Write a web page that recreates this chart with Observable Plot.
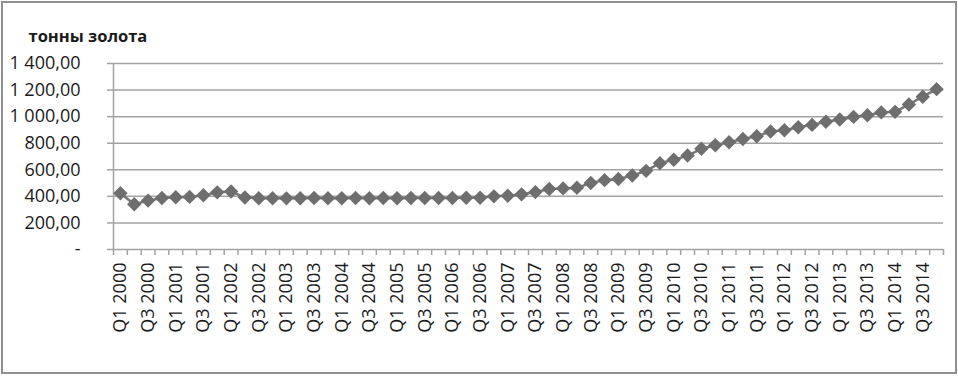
<!DOCTYPE html>
<html><head><meta charset="utf-8">
<script src="https://cdn.jsdelivr.net/npm/d3@7"></script>
<script src="https://cdn.jsdelivr.net/npm/@observablehq/plot@0.6"></script>
<style>
body{margin:0;background:#fff}
#wrap{position:relative;width:958px;height:376px;overflow:hidden}
#border{position:absolute;left:1px;top:1px;width:952px;height:369px;border:2px solid #909090;pointer-events:none}
</style></head><body><div id="wrap"><div id="border"></div></div>
<script>
const title = "тонны золота";
const quarters = [
  "Q1 2000","Q2 2000","Q3 2000","Q4 2000",
  "Q1 2001","Q2 2001","Q3 2001","Q4 2001",
  "Q1 2002","Q2 2002","Q3 2002","Q4 2002",
  "Q1 2003","Q2 2003","Q3 2003","Q4 2003",
  "Q1 2004","Q2 2004","Q3 2004","Q4 2004",
  "Q1 2005","Q2 2005","Q3 2005","Q4 2005",
  "Q1 2006","Q2 2006","Q3 2006","Q4 2006",
  "Q1 2007","Q2 2007","Q3 2007","Q4 2007",
  "Q1 2008","Q2 2008","Q3 2008","Q4 2008",
  "Q1 2009","Q2 2009","Q3 2009","Q4 2009",
  "Q1 2010","Q2 2010","Q3 2010","Q4 2010",
  "Q1 2011","Q2 2011","Q3 2011","Q4 2011",
  "Q1 2012","Q2 2012","Q3 2012","Q4 2012",
  "Q1 2013","Q2 2013","Q3 2013","Q4 2013",
  "Q1 2014","Q2 2014","Q3 2014","Q4 2014"
];
const gold = [
  423, 341, 368, 388,
  393, 396, 408, 430,
  437, 391, 386, 386,
  385, 386, 387, 386,
  386, 387, 386, 387,
  386, 388, 387, 388,
  387, 389, 390, 400,
  405, 415, 432, 455,
  460, 465, 500, 522,
  530, 557, 592, 650,
  675, 707, 758, 785,
  807, 832, 853, 888,
  897, 920, 938, 961,
  978, 998, 1011, 1032,
  1036, 1092, 1150, 1207
];
const yTicks = [0, 200, 400, 600, 800, 1000, 1200, 1400];

const data = quarters.map((q, i) => ({q, i, v: gold[i]}));
const bounds = d3.range(quarters.length + 1);
const labelPos = data.filter(d => d.i % 2 === 0).map(d => d.i + 0.5);
const ru = d3.formatLocale({decimal: ",", thousands: "\u00a0", grouping: [3], currency: ["", ""]});
const f2 = ru.format(",.2f");
const fmtY = d => d === 0 ? "-" : f2(d);
const font = "'Open Sans', 'DejaVu Sans', sans-serif";
const grid = "#a3a3a3";
const ink = "#1a1a1a";

const plot = Plot.plot({
  width: 958, height: 376,
  marginLeft: 113, marginRight: 15, marginTop: 63, marginBottom: 127,
  style: {fontFamily: font, fontSize: "17px", background: "#fff", overflow: "visible"},
  x: {type: "linear", domain: [0, quarters.length], axis: null},
  y: {domain: [0, 1400], axis: null},
  marks: [
    Plot.ruleY(yTicks, {stroke: grid, strokeWidth: 1.5}),
    Plot.ruleX([0], {stroke: grid, strokeWidth: 1.5}),
    Plot.axisY(yTicks, {label: null, tickSize: 6, tickPadding: 27, tickFormat: fmtY, stroke: grid, strokeWidth: 1.5, fill: ink, fontSize: 18}),
    Plot.axisX(bounds, {label: null, tickSize: 6, tickFormat: () => "", stroke: grid, strokeWidth: 1.5}),
    Plot.axisX(labelPos, {label: null, tickSize: 0, tickPadding: 13, tickRotate: -90, tickFormat: x => quarters[Math.round(x - 0.5)], fill: ink, fontSize: 18}),
    Plot.line(data, {x: d => d.i + 0.5, y: "v", stroke: "#777", strokeWidth: 2.5}),
    Plot.dot(data, {x: d => d.i + 0.5, y: "v", symbol: "diamond2", r: 6.5, fill: "#6e6e6e", stroke: "none"}),
    Plot.text([title], {text: d => d, frameAnchor: "top-left", dx: -85, dy: -27, lineAnchor: "middle", textAnchor: "start", fontWeight: "bold", fontSize: 16.5, fill: ink})
  ]
});
document.getElementById("wrap").prepend(plot);
</script>
</body></html>
